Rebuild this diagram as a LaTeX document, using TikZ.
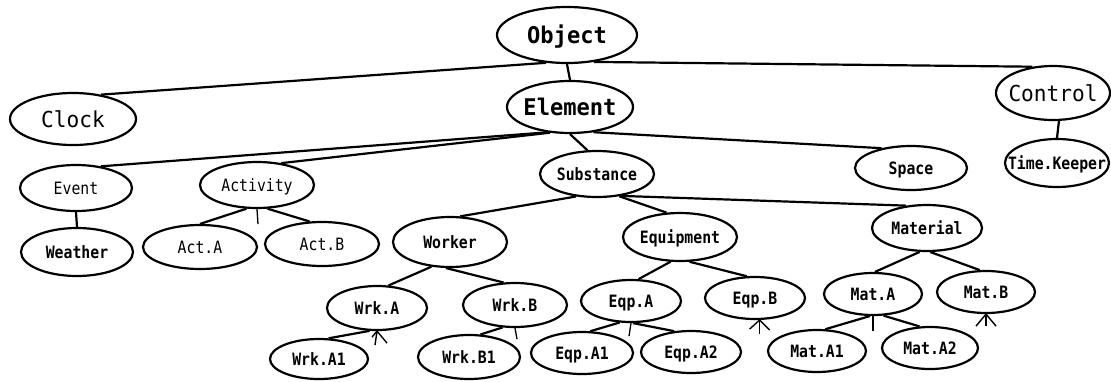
\documentclass[tikz,border=0pt]{standalone}
\usepackage{fontspec}
\usetikzlibrary{shapes.geometric,arrows.meta,calc}
\newfontfamily\bigmono[FakeStretch=0.96]{DejaVu Sans Mono}
\newfontfamily\smallmono[FakeStretch=0.87]{DejaVu Sans Mono}
\newcommand{\ctext}[1]{\makebox[0pt][c]{#1}}
\begin{document}
\begin{tikzpicture}[x=1pt,y=-1pt,
  ell/.style={draw, ellipse, line width=2.2pt, inner sep=0pt, text depth=0pt},
  bigb/.style={ell, font=\bigmono\bfseries\fontsize{23}{23}\selectfont, text height=16.8pt},
  bigr/.style={ell, font=\bigmono\fontsize{22}{22}\selectfont, text height=16pt},
  smb/.style={ell, font=\smallmono\bfseries\fontsize{17}{17}\selectfont, text height=12.4pt},
  smr/.style={ell, font=\smallmono\fontsize{17}{17}\selectfont, text height=12.4pt},
  sz/.style 2 args={minimum width=#1pt, minimum height=#2pt},
  conn/.style={line width=2.2pt},
  tickline/.style={line width=1.3pt},
  markline/.style={line width=1.4pt}
]
\useasboundingbox (0,0) rectangle (1111,381);
\fill[white] (0,0) rectangle (1111,381);

% nodes
\node[bigb, sz={140}{56}] (obj) at (567,35) {\ctext{Object}};
\node[bigb, sz={126}{52}] (elem) at (570,107) {\ctext{Element}};
\node[bigr, sz={126}{52}] (clock) at (73,119) {\ctext{Clock}};
\node[bigr, sz={114}{54}] (ctrl) at (1053,93) {\ctext{Control}};
\node[smb, sz={104}{48}] (tk) at (1057,163) {\ctext{Time.Keeper}};
\node[smr, sz={112}{46}] (event) at (76,188) {\ctext{Event}};
\node[smr, sz={114}{46}] (activ) at (257,185) {\ctext{Activity}};
\node[smb, sz={114}{46}] (subs) at (597,174) {\ctext{Substance}};
\node[smb, sz={112}{44}] (space) at (911,168) {\ctext{Space}};
\node[smb, sz={112}{48}] (weather) at (77,252) {\ctext{Weather}};
\node[smr, sz={114}{44}] (acta) at (200,247) {\ctext{Act.A}};
\node[smr, sz={114}{44}] (actb) at (322,244) {\ctext{Act.B}};
\node[smb, sz={114}{50}] (worker) at (450,242) {\ctext{Worker}};
\node[smb, sz={114}{48}] (equip) at (680,237) {\ctext{Equipment}};
\node[smb, sz={110}{46}] (mat) at (927,228) {\ctext{Material}};
\node[smb, sz={100}{44}] (wrka) at (377,308) {\ctext{Wrk.A}};
\node[smb, sz={104}{44}] (wrkb) at (515,305) {\ctext{Wrk.B}};
\node[smb, sz={98}{40}] (wrka1) at (319,359) {\ctext{Wrk.A1}};
\node[smb, sz={102}{44}] (wrkb1) at (469,357) {\ctext{Wrk.B1}};
\node[smb, sz={100}{42}] (eqpa) at (631,301) {\ctext{Eqp.A}};
\node[smb, sz={100}{42}] (eqpb) at (755,298) {\ctext{Eqp.B}};
\node[smb, sz={102}{42}] (eqpa1) at (582,353) {\ctext{Eqp.A1}};
\node[smb, sz={100}{42}] (eqpa2) at (691,352) {\ctext{Eqp.A2}};
\node[smb, sz={98}{42}] (mata) at (873,294) {\ctext{Mat.A}};
\node[smb, sz={98}{42}] (matb) at (986,292) {\ctext{Mat.B}};
\node[smb, sz={98}{42}] (mata1) at (817,351) {\ctext{Mat.A1}};
\node[smb, sz={96}{42}] (mata2) at (930,348) {\ctext{Mat.A2}};

% connectors
\draw[conn] (obj.south) -- (elem.north);
\draw[conn] (obj.233) -- (clock.41);
\draw[conn] (obj.315) -- (ctrl.128);
\draw[conn] (ctrl.282) -- (tk.north);

\draw[conn] (elem.228) -- (event.41);
\draw[conn] (elem.232) -- (activ.42);
\draw[conn] (elem.south) -- (subs.112);
\draw[conn] (elem.313) -- (space.146);

\draw[conn] (event.south) -- (weather.north);
\draw[conn] (activ.246) -- (acta.north);
\draw[conn] (activ.294) -- (actb.119);

\draw[conn] (subs.227) -- (worker.68);
\draw[conn] (subs.315) -- (equip.119);
\draw[conn] (subs.318) -- (mat.133);

\draw[conn] (worker.233) -- (wrka.63);
\draw[conn] (worker.261) -- (wrkb.117);
\draw[conn] (wrka.252) -- (wrka1.65);
\draw[conn] (wrkb.241) -- (wrkb1.63);

\draw[conn] (equip.249) -- (eqpa.71);
\draw[conn] (equip.291) -- (eqpb.111);
\draw[conn] (eqpa.242) -- (eqpa1.69);
\draw[conn] (eqpa.275) -- (eqpa2.129);

\draw[conn] (mat.253) -- (mata.85);
\draw[conn] (mat.278) -- (matb.106);
\draw[conn] (mata.262) -- (mata1.69);
\draw[conn] (mata.296) -- (mata2.116);

% short stems
\coordinate (activT) at ($(activ.south)+(1,15)$);
\draw[tickline] (activ.south) -- (activT);
\coordinate (wrkbT) at ($(wrkb.south)+(2,11)$);
\draw[tickline] (wrkb.south) -- (wrkbT);
\coordinate (eqpaT) at ($(eqpa.south)+(-2,13)$);
\draw[tickline] (eqpa.south) -- (eqpaT);
\coordinate (mataT) at ($(mata.south)+(0,15)$);
\draw[tickline] (mata.south) -- (mataT);

% upward marks under Wrk.A, Eqp.B, Mat.B
\coordinate (wrkaP) at (wrka.south);
\draw[markline] ($(wrkaP)+(-2,14)$) -- (wrkaP) -- ($(wrkaP)+(10,12)$);
\draw[markline] ($(wrkaP)+(-5,6)$) -- (wrkaP);
\coordinate (eqpbP) at (eqpb.282);
\draw[markline] ($(eqpbP)+(-10,9)$) -- (eqpbP) -- ($(eqpbP)+(10,10)$);
\draw[markline] (eqpbP) -- ($(eqpbP)+(0,14)$);
\coordinate (matbP) at (matb.south);
\draw[markline] ($(matbP)+(-10,12)$) -- (matbP) -- ($(matbP)+(10,12)$);
\draw[markline] (matbP) -- ($(matbP)+(0,12)$);
\end{tikzpicture}
\end{document}
